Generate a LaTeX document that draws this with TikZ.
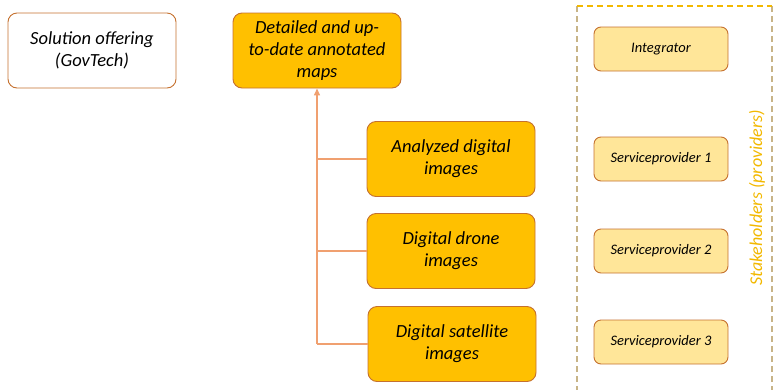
\documentclass[tikz,border=0pt]{standalone}
\usepackage{fontspec}
\setmainfont{Carlito}
\usetikzlibrary{arrows.meta}
\definecolor{gold}{HTML}{FFC000}
\definecolor{lightgold}{HTML}{FFE699}
\definecolor{brd}{HTML}{C5712F}
\definecolor{conn}{HTML}{F0A070}
\definecolor{dashgold}{HTML}{F2B800}
\definecolor{dashtan}{HTML}{C8B488}
\begin{document}
\begin{tikzpicture}[x=1pt,y=-1pt,
  bigbox/.style={draw=brd, line width=0.9pt, rounded corners=9pt, minimum width=168pt, minimum height=75pt, align=center, font=\fontsize{18.5}{22}\selectfont\itshape, inner sep=2pt},
  smallbox/.style={draw=brd, line width=0.9pt, fill=lightgold, rounded corners=7pt, minimum width=134pt, minimum height=44pt, align=center, font=\fontsize{14.5}{17}\selectfont\itshape},
  conline/.style={draw=conn, line width=1.4pt}]
\useasboundingbox (0,0) rectangle (774,389);
% dashed stakeholder frame
\draw[dashtan, line width=1.2pt, dash pattern=on 6pt off 4pt] (577,392) -- (577,6);
\draw[dashtan, line width=1.2pt, dash pattern=on 6pt off 4pt] (772,6) -- (772,392);
\draw[dashgold, line width=1.2pt, dash pattern=on 6pt off 4pt] (577,6) -- (772,6);
\node[bigbox, fill=white] (sol) at (92,50.5) {Solution offering\\(GovTech)};
\node[bigbox, fill=gold] (maps) at (317,50.5) {Detailed and up-\\to-date annotated\\maps};
\node[bigbox, fill=gold] (ana) at (451,159) {Analyzed digital\\images};
\node[bigbox, fill=gold] (drone) at (451,251) {Digital drone\\images};
\node[bigbox, fill=gold] (sat) at (452,344) {Digital satellite\\images};
\node[smallbox] (int) at (661,49) {Integrator};
\node[smallbox] (sp1) at (661,159) {Serviceprovider 1};
\node[smallbox] (sp2) at (661,251) {Serviceprovider 2};
\node[smallbox] (sp3) at (661,342) {Serviceprovider 3};
\node[rotate=90, text=dashgold, font=\fontsize{18}{21}\selectfont\itshape] (stk) at (757,198) {Stakeholders (providers)};
\coordinate (trunk) at (317,344);
\draw[conline] (sat.west) -- (trunk);
\draw[conline] (ana.west) -- (317,159);
\draw[conline] (drone.west) -- (317,251);
\draw[conline, -{Triangle[length=7pt,width=6pt]}] (trunk) -- (maps.south);
\end{tikzpicture}
\end{document}
